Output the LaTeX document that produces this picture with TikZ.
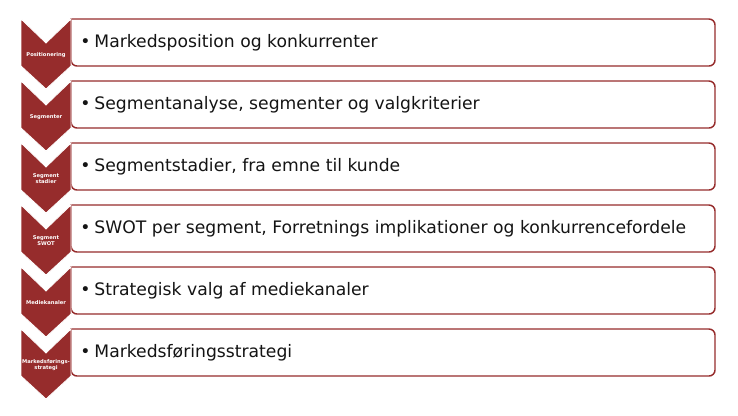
\documentclass[tikz,border=0pt]{standalone}
\usepackage{fontspec}
\setmainfont{DejaVu Sans}
\usetikzlibrary{positioning}
\definecolor{myred}{RGB}{150,44,44}
\definecolor{mytext}{RGB}{20,20,20}

\begin{document}
\begin{tikzpicture}[x=0.75pt,y=-0.75pt,
  chev/.style={fill=myred,draw=white,line width=0.6pt},
  rowbox/.style={draw=myred,line width=1.1pt,fill=white},
  chevlabel/.style={text=white,font=\fontsize{3.9}{4.6}\selectfont\bfseries,align=center,inner sep=0pt},
  rowtext/.style={text=mytext,font=\fontsize{12.9}{15}\selectfont,anchor=base west,inner sep=0pt}]

  \useasboundingbox (0,0) rectangle (738,415);

  % one row per step: chevron on the left, box with text on the right
  \foreach \i/\lab/\txt in {
    1/Positionering/Markedsposition og konkurrenter,
    2/Segmenter/{Segmentanalyse, segmenter og valgkriterier},
    3/Segment\\stadier/{Segmentstadier, fra emne til kunde},
    4/Segment\\SWOT/{SWOT per segment, Forretnings implikationer og konkurrencefordele},
    5/Mediekanaler/Strategisk valg af mediekanaler,
    6/Markedsførings-\\strategi/Markedsføringsstrategi}
  {
    \pgfmathsetmacro{\t}{19+62*(\i-1)}
    \draw[rowbox] (71,\t) [rounded corners=4.5pt] -- (715,\t) -- (715,\t+47)
      -- (71,\t+47) [sharp corners] -- cycle;
    \draw[chev] (21,\t) -- (46,\t+24) -- (71,\t) -- (71,\t+47)
      -- (46,\t+70) -- (21,\t+47) -- cycle;
    \node[chevlabel] (lab\i) at (46,\t+36) {\lab};
    \node[rowtext] (txt\i) at (80,\t+28.5) {\textbullet\hspace{3pt}\txt};
  }

\end{tikzpicture}
\end{document}
